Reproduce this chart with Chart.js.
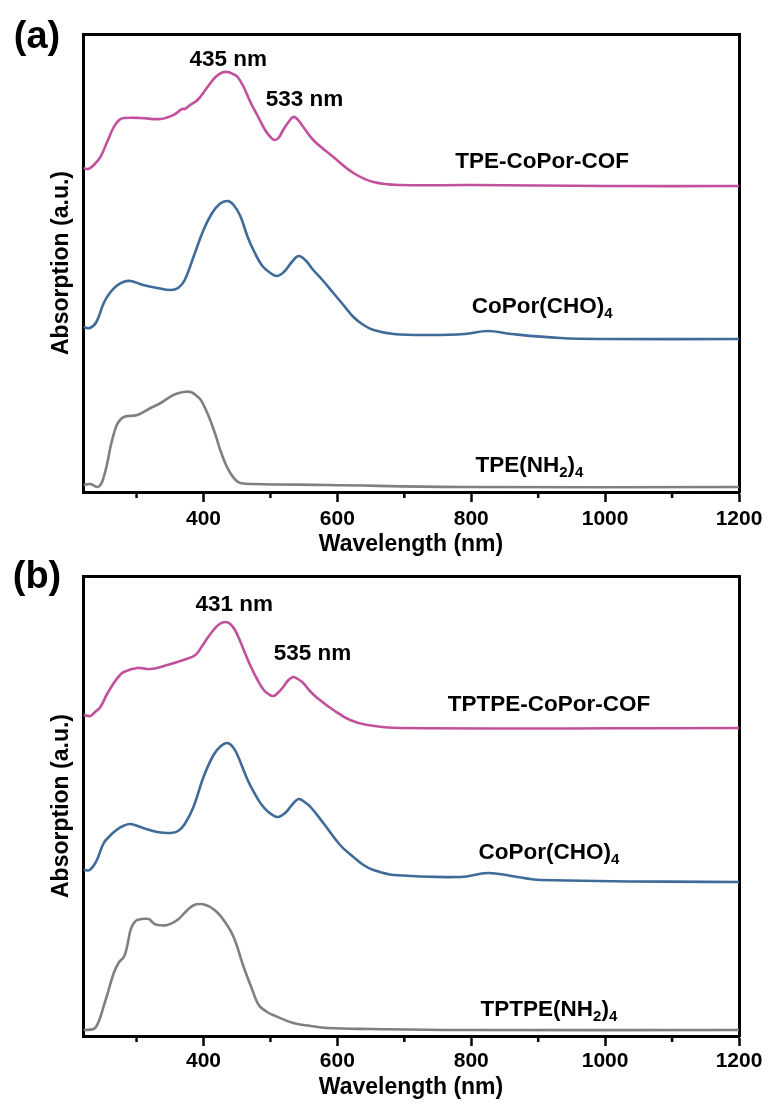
<!DOCTYPE html>
<html>
<head>
<meta charset="utf-8">
<script src="https://cdn.jsdelivr.net/npm/chart.js@4.4.0/dist/chart.umd.min.js"></script>
<style>
  body { margin: 0; background: #fff; }
  canvas { position: absolute; left: 0; }
  #chartA { top: 0; }
  #chartB { top: 541px; }
</style>
</head>
<body>
<canvas id="chartA" width="770" height="560"></canvas>
<canvas id="chartB" width="770" height="563"></canvas>
<script>
// x axis ticks (nm)
const majorTicks = [400, 600, 800, 1000, 1200]
const minorTicks = [300, 500, 700, 900, 1100]

// panel (a)
const wlCofA = [221, 228, 236, 246, 256, 266, 274, 281, 306, 336, 355, 368, 372, 380, 391, 406, 418, 428, 436, 444, 451, 460, 470, 481, 492, 500, 506, 512, 519, 527, 534, 540, 548, 564, 594, 624, 654, 694, 800, 1000, 1200]
const absCofA = [3.24, 3.23, 3.27, 3.35, 3.50, 3.65, 3.72, 3.74, 3.74, 3.73, 3.77, 3.83, 3.83, 3.87, 3.92, 4.05, 4.15, 4.195, 4.20, 4.18, 4.15, 4.05, 3.90, 3.76, 3.62, 3.55, 3.52, 3.54, 3.62, 3.70, 3.75, 3.73, 3.66, 3.52, 3.35, 3.19, 3.10, 3.07, 3.07, 3.06, 3.06]

const wlPorA = [221, 230, 240, 251, 260, 270, 280, 291, 310, 331, 351, 362, 372, 385, 400, 412, 424, 436, 445, 455, 466, 476, 488, 500, 510, 520, 532, 542, 552, 564, 579, 594, 609, 624, 639, 654, 684, 740, 790, 825, 860, 933, 1000, 1200]
const absPorA = [1.65, 1.64, 1.70, 1.89, 1.99, 2.06, 2.10, 2.11, 2.07, 2.04, 2.02, 2.04, 2.12, 2.35, 2.62, 2.78, 2.88, 2.91, 2.87, 2.76, 2.55, 2.40, 2.26, 2.19, 2.16, 2.20, 2.30, 2.36, 2.32, 2.22, 2.11, 1.99, 1.87, 1.75, 1.67, 1.62, 1.58, 1.57, 1.58, 1.61, 1.58, 1.54, 1.53, 1.53]

const wlTpeA = [221, 231, 242, 247, 251, 256, 261, 266, 272, 281, 301, 321, 336, 355, 370, 381, 390, 396, 403, 410, 418, 425, 433, 440, 448, 455, 475, 585, 784, 1200]
const absTpeA = [0.07, 0.08, 0.05, 0.08, 0.15, 0.28, 0.45, 0.58, 0.69, 0.75, 0.77, 0.84, 0.89, 0.97, 1.00, 1.00, 0.96, 0.92, 0.83, 0.72, 0.57, 0.42, 0.28, 0.19, 0.12, 0.09, 0.08, 0.07, 0.05, 0.05]

// panel (b)
const wlCofB = [221, 231, 238, 246, 256, 266, 274, 281, 301, 321, 346, 370, 388, 397, 406, 415, 424, 433, 440, 447, 454, 462, 471, 480, 490, 497, 504, 511, 519, 527, 534, 541, 549, 559, 570, 594, 619, 645, 694, 1200]
const absCofB = [3.21, 3.20, 3.24, 3.29, 3.42, 3.53, 3.60, 3.64, 3.68, 3.67, 3.71, 3.76, 3.81, 3.89, 3.98, 4.06, 4.12, 4.14, 4.12, 4.06, 3.96, 3.83, 3.69, 3.57, 3.46, 3.42, 3.40, 3.43, 3.49, 3.56, 3.59, 3.57, 3.53, 3.45, 3.38, 3.26, 3.16, 3.11, 3.08, 3.08]

const wlPorB = [221, 230, 240, 251, 260, 270, 280, 291, 310, 331, 351, 362, 372, 385, 400, 415, 426, 436, 445, 452, 466, 476, 485, 497, 510, 518, 525, 532, 542, 551, 560, 579, 604, 624, 639, 654, 684, 784, 825, 860, 903, 1200]
const absPorB = [1.66, 1.66, 1.75, 1.93, 2.00, 2.06, 2.10, 2.12, 2.08, 2.04, 2.03, 2.05, 2.12, 2.29, 2.59, 2.81, 2.90, 2.93, 2.88, 2.79, 2.56, 2.43, 2.33, 2.24, 2.19, 2.21, 2.25, 2.31, 2.37, 2.34, 2.29, 2.13, 1.91, 1.79, 1.71, 1.66, 1.61, 1.59, 1.63, 1.60, 1.56, 1.54]

const wlTpeB = [221, 236, 241, 246, 251, 257, 266, 274, 281, 286, 291, 296, 301, 318, 325, 331, 346, 361, 376, 386, 396, 403, 410, 420, 430, 445, 460, 473, 480, 485, 495, 504, 534, 560, 585, 650, 784, 1200]
const absTpeB = [0.06, 0.07, 0.11, 0.19, 0.30, 0.43, 0.63, 0.74, 0.79, 0.90, 1.06, 1.13, 1.16, 1.17, 1.13, 1.11, 1.11, 1.16, 1.26, 1.31, 1.32, 1.31, 1.29, 1.24, 1.16, 0.99, 0.69, 0.46, 0.34, 0.29, 0.24, 0.21, 0.13, 0.10, 0.08, 0.07, 0.06, 0.06]

// texts: [piece, isSubscript]
const notesA = [
  { parts: [['435 nm', 0]], x: 437, y: 4.32 },
  { parts: [['533 nm', 0]], x: 551, y: 3.92 },
  { parts: [['TPE-CoPor-COF', 0]], x: 906, y: 3.30 },
  { parts: [['CoPor(CHO)', 0], ['4', 1]], x: 906, y: 1.85 },
  { parts: [['TPE(NH', 0], ['2', 1], [')', 0], ['4', 1]], x: 887, y: 0.26 }
]
const notesB = [
  { parts: [['431 nm', 0]], x: 446, y: 4.31 },
  { parts: [['535 nm', 0]], x: 563, y: 3.82 },
  { parts: [['TPTPE-CoPor-COF', 0]], x: 916, y: 3.31 },
  { parts: [['CoPor(CHO)', 0], ['4', 1]], x: 916, y: 1.83 },
  { parts: [['TPTPE(NH', 0], ['2', 1], [')', 0], ['4', 1]], x: 916, y: 0.26 }
]

const FONT = '"Liberation Sans", Arial, sans-serif'
const PINK = '#c2519c'
const BLUE = '#3e6b98'
const GRAY = '#808080'

const drawRich = (ctx, parts, cx, cy) => {
  const mainFont = `bold 22.5px ${FONT}`
  const subFont = `bold 15px ${FONT}`
  let total = 0
  parts.forEach(([t, sub]) => {
    ctx.font = sub ? subFont : mainFont
    total += ctx.measureText(t).width
  })
  let x = cx - total / 2
  ctx.textAlign = 'left'
  parts.forEach(([t, sub]) => {
    ctx.font = sub ? subFont : mainFont
    ctx.fillText(t, x, sub ? cy + 7 : cy)
    x += ctx.measureText(t).width
  })
}

const textLayer = {
  id: 'textLayer',
  afterDraw(chart, args, opts) {
    const { ctx, chartArea, scales: { x, y } } = chart
    ctx.save()
    // minor ticks
    ctx.strokeStyle = '#000'
    ctx.lineWidth = 2.5
    minorTicks.forEach(v => {
      const px = x.getPixelForValue(v)
      ctx.beginPath()
      ctx.moveTo(px, chartArea.bottom + 1.5)
      ctx.lineTo(px, chartArea.bottom + 6)
      ctx.stroke()
    })
    ctx.fillStyle = '#000'
    ctx.textBaseline = 'middle'
    opts.notes.forEach(n => drawRich(ctx, n.parts, x.getPixelForValue(n.x), y.getPixelForValue(n.y)))
    ctx.font = `bold 38px ${FONT}`
    ctx.textAlign = 'center'
    ctx.fillText(opts.tag, 37, opts.tagY)
    ctx.restore()
  }
}

const makePanel = (sel, series, cfg) => {
  const border = { display: true, color: '#000', width: 3 }
  new Chart(document.querySelector(sel), {
    type: 'line',
    data: {
      datasets: series.map(s => ({
        data: s.wl.map((w, i) => ({ x: w, y: s.abs[i] })),
        borderColor: s.color,
        borderWidth: 2.6,
        pointRadius: 0,
        tension: 0.4,
        fill: false
      }))
    },
    options: {
      responsive: false,
      animation: false,
      layout: { padding: { top: cfg.top, right: 31, left: 0, bottom: 0 } },
      plugins: {
        legend: { display: false },
        tooltip: { enabled: false },
        textLayer: { notes: cfg.notes, tag: cfg.tag, tagY: cfg.tagY }
      },
      scales: {
        x: {
          type: 'linear', min: 220, max: 1200,
          afterBuildTicks: s => { s.ticks = majorTicks.map(v => ({ value: v })) },
          afterFit: s => { s.height = cfg.xHeight },
          grid: { display: true, drawOnChartArea: false, drawTicks: true, tickLength: 10, tickWidth: 2.5, tickColor: '#000' },
          border,
          ticks: { color: '#000', font: { family: FONT, size: 21, weight: 'bold' }, padding: cfg.tickPad, maxRotation: 0, callback: v => String(v) },
          title: { display: true, text: 'Wavelength (nm)', color: '#000', font: { family: FONT, size: 23, weight: 'bold' }, padding: { top: 0, bottom: cfg.titlePad } }
        },
        x2: {
          type: 'linear', position: 'top', display: true,
          grid: { display: false, drawTicks: false }, ticks: { display: false }, border,
          afterFit: s => { s.height = 0 }
        },
        y: {
          type: 'linear', min: 0, max: cfg.yMax,
          grid: { display: false, drawTicks: false }, ticks: { display: false }, border,
          title: { display: true, text: 'Absorption (a.u.)', color: '#000', font: { family: FONT, size: 23, weight: 'bold' }, padding: { top: 48, bottom: 0 } },
          afterFit: s => { s.width = 83 }
        },
        y2: {
          type: 'linear', position: 'right', display: true,
          grid: { display: false, drawTicks: false }, ticks: { display: false }, border,
          afterFit: s => { s.width = 0 }
        }
      }
    },
    plugins: [textLayer]
  })
}

makePanel('#chartA', [
  { wl: wlCofA, abs: absCofA, color: PINK },
  { wl: wlPorA, abs: absPorA, color: BLUE },
  { wl: wlTpeA, abs: absTpeA, color: GRAY }
], { top: 34, xHeight: 68, yMax: 4.58, tickPad: 5, titlePad: 2, notes: notesA, tag: '(a)', tagY: 38 })

makePanel('#chartB', [
  { wl: wlCofB, abs: absCofB, color: PINK },
  { wl: wlPorB, abs: absPorB, color: BLUE },
  { wl: wlTpeB, abs: absTpeB, color: GRAY }
], { top: 35, xHeight: 68, yMax: 4.60, tickPad: 3, titlePad: 3, notes: notesB, tag: '(b)', tagY: 37 })
</script>
</body>
</html>
